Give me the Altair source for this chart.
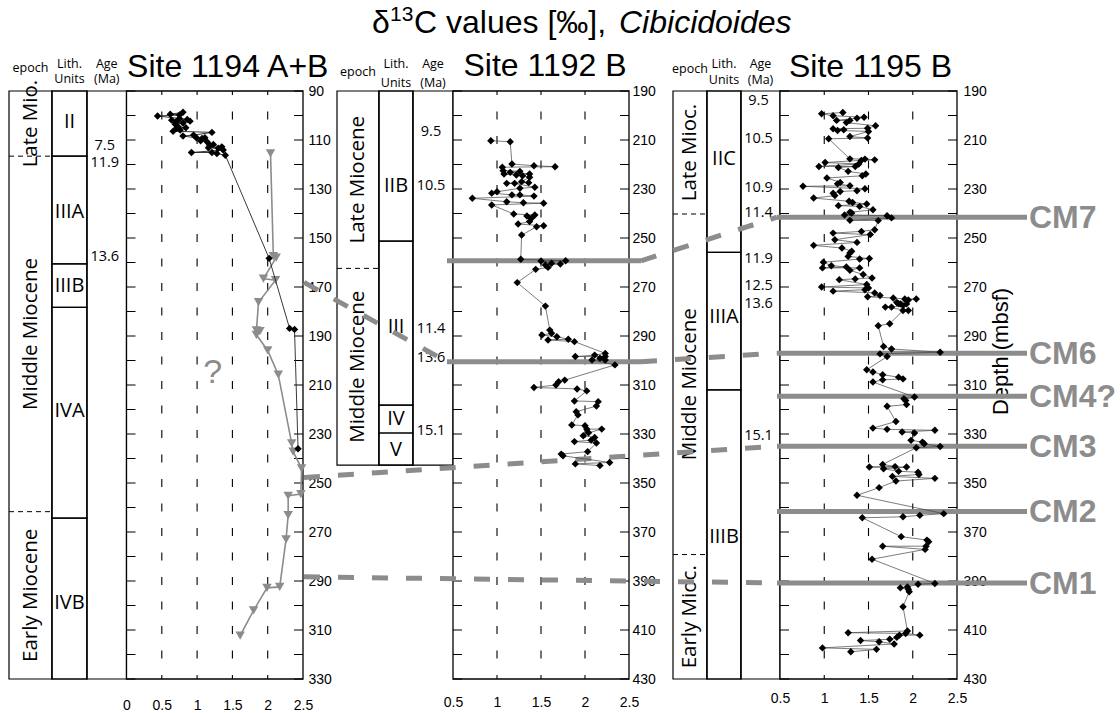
import altair as alt
import pandas as pd

W, H = 1120, 713
Y0, Y1 = 91, 679
FONT = "Liberation Sans"
SFONT = "Open Sans"
GRAY = "#8c8c8c"

# ---------------- layout (pixel ranges of scales) ----------------
P1_X, P2_X, P3_X = [126.5, 303], [453, 629], [780, 957]
P1_COLS = [9, 52, 87, 126.5]
P2_COLS = [337, 379, 413, 453]
P3_COLS = [673, 707, 741, 780]

# ---------------- data: d13C (per mil) and depth (mbsf) ----------------
s1194_black_d13c = [0.44, 0.62, 0.80, 0.75, 0.64, 0.75, 0.86, 0.90, 0.70, 0.80,
                    0.69, 0.73, 0.71, 0.84, 0.76, 0.66, 1.21, 0.80, 0.95, 0.99,
                    1.07, 1.11, 1.14, 1.05, 1.23, 1.18, 1.35, 1.16, 1.30, 1.37,
                    0.92, 1.21, 1.28, 1.40, 2.02, 2.31, 2.38, 2.43]
s1194_black_depth = [100.2, 99.5, 98.7, 99.8, 101.9, 101.2, 101.6, 102.3, 102.6, 103.1,
                     103.6, 104.6, 105.2, 105.0, 105.9, 106.4, 106.9, 108.4, 108.0, 109.1,
                     109.4, 109.1, 110.7, 110.3, 111.8, 112.1, 112.8, 113.2, 113.4, 114.1,
                     115.1, 115.1, 115.5, 116.2, 158.3, 186.9, 187.3, 236.0]
s1194_gray_d13c = [2.04, 2.08, 2.12, 1.94, 2.11, 1.87, 1.84, 1.89, 1.84, 2.00, 2.15,
                   2.34, 2.36, 2.48, 2.47, 2.29, 2.29, 2.26, 2.17, 1.99, 1.80, 1.61]
s1194_gray_depth = [115.5, 157.4, 158.0, 166.6, 167.2, 176.2, 187.7, 188.0, 189.5, 195.9, 205.8,
                    233.8, 237.2, 244.0, 254.5, 255.2, 263.1, 273.0, 292.4, 292.8, 302.0, 312.3]

s1192_d13c = [0.93, 1.15, 1.17, 1.42, 1.66, 1.06, 1.07, 1.15, 1.26, 1.37,
              1.08, 1.22, 1.29, 1.37, 1.11, 1.28, 1.36, 1.20, 1.43, 1.26,
              1.17, 1.26, 1.42, 1.00, 0.94, 0.72, 0.94, 1.11, 1.30, 1.53,
              1.19, 1.34, 1.39, 1.43, 1.37, 1.24, 1.45, 1.53, 1.28, 1.27,
              1.50, 1.62, 1.72, 1.78, 1.58, 1.44, 1.55, 1.23, 1.55, 1.60,
              1.62, 1.51, 1.58, 1.68, 1.81, 1.88, 1.89, 2.11, 2.17, 2.23,
              2.23, 2.23, 2.08, 2.34, 1.77, 1.70, 1.67, 1.42, 1.91, 2.02,
              1.88, 2.15, 2.13, 1.90, 1.92, 1.85, 2.00, 2.02, 2.19, 2.04,
              1.98, 2.11, 2.07, 2.13, 1.88, 2.03, 1.73, 1.75, 2.28, 1.89,
              2.17]
s1192_depth = [210.3, 210.7, 219.8, 220.5, 220.9, 221.1, 222.5, 223.2, 222.8, 223.9,
               223.9, 224.3, 224.6, 225.2, 227.7, 227.0, 227.4, 227.7, 229.3, 229.7,
               232.4, 232.4, 232.9, 231.1, 231.7, 233.8, 236.5, 235.2, 235.6, 235.8,
               240.2, 241.0, 242.0, 240.6, 243.3, 244.3, 245.4, 245.0, 248.8, 258.7,
               259.4, 260.3, 260.6, 259.3, 262.0, 262.8, 261.0, 268.2, 277.8, 287.6,
               288.9, 289.6, 291.6, 290.3, 291.3, 292.3, 298.4, 297.8, 299.1, 297.1,
               298.4, 299.8, 299.8, 301.8, 308.0, 308.7, 310.0, 311.0, 311.6, 312.4,
               316.5, 316.8, 318.6, 320.9, 322.2, 326.3, 326.6, 328.0, 328.0, 329.5,
               330.7, 331.4, 332.5, 333.7, 333.1, 337.2, 338.2, 338.9, 341.6, 342.2,
               342.9]

s1195_d13c = [0.97, 1.10, 1.21, 1.14, 1.25, 1.29, 1.37, 1.45, 1.58, 1.10,
              1.15, 1.22, 1.49, 1.50, 1.29, 1.49, 1.05, 1.29, 1.42, 1.57,
              1.46, 1.01, 0.94, 1.16, 1.35, 1.39, 1.27, 1.47, 1.43, 1.03,
              1.15, 1.18, 0.76, 1.29, 1.46, 1.37, 1.10, 1.12, 1.18, 0.88,
              1.28, 1.32, 1.48, 1.16, 1.40, 1.55, 1.29, 1.23, 1.31, 1.29,
              1.71, 1.76, 1.61, 1.57, 1.10, 1.42, 1.52, 1.12, 1.37, 0.88,
              1.20, 1.29, 1.27, 1.31, 1.40, 1.51, 0.99, 0.98, 1.08, 1.25,
              1.29, 1.40, 1.44, 1.54, 1.17, 1.35, 0.97, 1.10, 1.48, 1.50,
              1.46, 1.57, 1.63, 1.49, 1.78, 1.91, 1.84, 2.04, 1.95, 1.93,
              1.89, 1.86, 1.82, 1.76, 1.69, 1.95, 1.89, 1.74, 1.61, 1.67,
              1.76, 2.31, 1.63, 1.71, 1.48, 1.55, 1.66, 1.66, 1.55, 1.84,
              1.89, 2.02, 1.90, 1.92, 1.93, 1.71, 1.81, 1.55, 1.71, 1.88,
              2.02, 2.25, 1.98, 2.11, 2.13, 2.31, 2.04, 1.51, 1.66, 1.67,
              1.80, 1.84, 1.93, 2.06, 2.07, 1.77, 1.81, 2.25, 1.62, 1.37,
              2.35, 2.08, 1.89, 1.43, 1.87, 2.16, 2.18, 2.15, 2.14, 1.66,
              1.54, 2.25, 2.06, 1.86, 1.94, 1.95, 1.96, 1.89, 1.94, 1.92,
              2.08, 1.27, 1.85, 1.82, 1.74, 1.41, 1.62, 1.79, 0.98, 1.59,
              1.30]
s1195_depth = [199.3, 200.1, 198.8, 202.0, 202.9, 202.0, 201.1, 200.7, 204.2, 205.4,
               206.1, 205.8, 205.2, 206.5, 208.6, 209.2, 209.5, 217.7, 218.3, 218.1,
               217.8, 219.2, 220.8, 221.2, 220.8, 219.8, 222.8, 223.9, 224.6, 225.5,
               227.9, 227.3, 228.9, 228.7, 229.9, 230.7, 231.7, 232.7, 231.0, 233.7,
               235.0, 235.5, 236.1, 236.8, 237.1, 238.5, 239.5, 240.6, 239.8, 242.8,
               240.9, 241.8, 242.9, 246.6, 248.0, 247.3, 248.6, 250.7, 251.8, 253.0,
               254.1, 256.1, 257.5, 255.4, 258.6, 258.4, 259.9, 262.2, 261.3, 261.8,
               263.2, 262.2, 264.9, 266.3, 267.0, 266.7, 270.0, 271.7, 269.0, 270.4,
               271.1, 272.4, 273.5, 274.0, 274.5, 274.9, 276.8, 274.9, 275.3, 276.9,
               277.6, 276.9, 276.3, 278.2, 278.2, 279.6, 279.6, 285.0, 285.8, 294.3,
               295.3, 296.6, 297.3, 298.4, 303.8, 304.7, 305.8, 307.9, 308.8, 306.8,
               307.5, 314.9, 315.6, 316.3, 318.0, 318.7, 324.9, 327.6, 328.1, 329.2,
               329.6, 328.5, 332.6, 333.3, 334.0, 335.1, 335.6, 343.5, 342.4, 344.2,
               343.3, 345.2, 343.5, 345.6, 346.5, 347.3, 349.2, 348.1, 351.9, 355.0,
               362.5, 363.2, 363.8, 364.2, 371.9, 373.3, 374.0, 375.8, 377.1, 375.8,
               381.1, 391.0, 391.3, 392.8, 392.4, 393.4, 394.4, 400.5, 410.4, 411.4,
               412.1, 411.1, 412.1, 413.0, 413.8, 414.3, 414.8, 415.7, 417.3, 417.9,
               418.9]

# ---------------- axes ----------------
P1_DOM = [90, 330]
P23_DOM = [190, 430]
P1_XDOM = [0, 2.5]
P23_XDOM = [0.5, 2.5]
p1_xlabels = [0, 0.5, 1, 1.5, 2, 2.5]
p23_xlabels = [0.5, 1, 1.5, 2, 2.5]
p1_grid = [0.5, 1, 1.5, 2]
p23_grid = [1, 1.5, 2]
p1_ylabels = [90, 110, 130, 150, 170, 190, 210, 230, 250, 270, 290, 310, 330]
p23_ylabels = [190, 210, 230, 250, 270, 290, 310, 330, 350, 370, 390, 410, 430]
p1_yticks = list(range(90, 331, 10))
p23_yticks = list(range(190, 431, 10))

# ---------------- stratigraphy ----------------
p1_epochs = ["Late Mio.", "Middle Miocene", "Early Miocene"]
p1_epoch_top = [90, 116.6, 261.7]
p1_epoch_base = [116.6, 261.7, 330]
p1_lith = ["II", "IIIA", "IIIB", "IVA", "IVB"]
p1_lith_top = [90, 116.6, 160.6, 178.3, 264.3]
p1_lith_base = [116.6, 160.6, 178.3, 264.3, 330]
p1_lith_label = [102.5, 139.5, 169.5, 220.5, 299.0]
p1_age = ["7.5", "11.9", "13.6"]
p1_age_depth = [112.6, 119.5, 157.9]

p2_epochs = ["Late Miocene", "Middle Miocene"]
p2_epoch_top = [190, 262.4]
p2_epoch_base = [262.4, 342.7]
p2_lith = ["IIB", "III", "IV", "V"]
p2_lith_top = [190, 251.3, 318.2, 329.6]
p2_lith_base = [251.3, 318.2, 329.6, 342.7]
p2_lith_label = [228.6, 286.5, 323.9, 336.6]
p2_age = ["9.5", "10.5", "11.4", "13.6", "15.1"]
p2_age_depth = [206.6, 228.9, 287.1, 299.1, 328.6]

p3_epochs = ["Late Mioc.", "Middle Miocene", "Early Mioc."]
p3_epoch_top = [190, 240.2, 379.2]
p3_epoch_base = [240.2, 379.2, 430]
p3_lith = ["IIC", "IIIA", "IIIB"]
p3_lith_top = [190, 255.9, 312.0]
p3_lith_base = [255.9, 312.0, 430]
p3_lith_label = [217.8, 282.4, 372.0]
p3_age = ["9.5", "10.5", "10.9", "11.4", "11.9", "12.5", "13.6", "15.1"]
p3_age_depth = [194.1, 209.7, 229.4, 239.6, 258.6, 269.5, 276.9, 331.0]

# ---------------- carbon-isotope events ----------------
cm_names = ["CM7", "CM6", "CM4?", "CM3", "CM2", "CM1"]
cm_depth_1195 = [241.5, 297.0, 314.6, 335.0, 361.6, 390.8]
cm_depth_1192 = [259.3, 300.5]
conn_from_site = ["1192", "1194", "1192", "1194", "1194"]
conn_from_depth = [259.3, 168.1, 300.5, 247.8, 288.3]
conn_to_site = ["1195", "1192", "1195", "1195", "1195"]
conn_to_depth = [241.5, 300.5, 297.0, 335.0, 390.8]


def qs(dom, rng):
    return alt.Scale(domain=dom, range=rng, nice=False, zero=False)


layers = []


# ---------- stratigraphic columns ----------
def strat_layers(cols_px, ydom, bot, ep, ep_t, ep_b, li, li_t, li_b, li_lab, ag, ag_d, hdr_dy):
    SX = qs([0, 1, 2, 3], cols_px)
    YS = qs(ydom, [Y0, Y1])
    L = []
    cdf = pd.DataFrame({"c0": [0, 1, 2], "c1": [1, 2, 3], "top": ydom[0], "bot": bot})
    L.append(alt.Chart(cdf).mark_rect(fill="white", stroke="black", strokeWidth=1.2).encode(
        x=alt.X("c0:Q", scale=SX, axis=None), x2="c1:Q",
        y=alt.Y("top:Q", scale=YS, axis=None), y2="bot:Q"))
    ldf = pd.DataFrame({"name": li, "top": li_t, "bot": li_b, "lab": li_lab})
    ldf["c0"], ldf["c1"], ldf["cm"] = 1, 2, 1.5
    L.append(alt.Chart(ldf).mark_rect(fill="white", fillOpacity=0, stroke="black", strokeWidth=1.2).encode(
        x=alt.X("c0:Q", scale=SX, axis=None), x2="c1:Q",
        y=alt.Y("top:Q", scale=YS, axis=None), y2="bot:Q"))
    L.append(alt.Chart(ldf).mark_text(font=SFONT, fontSize=20, color="black", baseline="middle").encode(
        x=alt.X("cm:Q", scale=SX, axis=None), y=alt.Y("lab:Q", scale=YS, axis=None), text="name:N"))
    edf = pd.DataFrame({"name": ep, "top": ep_t, "bot": ep_b})
    edf["mid"] = (edf["top"] + edf["bot"]) / 2
    edf["c0"], edf["c1"], edf["cm"] = 0, 1, 0.5
    L.append(alt.Chart(edf.iloc[1:]).mark_rule(color="black", strokeWidth=1, strokeDash=[5, 4]).encode(
        x=alt.X("c0:Q", scale=SX, axis=None), x2="c1:Q", y=alt.Y("top:Q", scale=YS, axis=None)))
    L.append(alt.Chart(edf).mark_text(font=SFONT, fontSize=20.5, angle=270, color="black",
                                      baseline="middle", align="center").encode(
        x=alt.X("cm:Q", scale=SX, axis=None), y=alt.Y("mid:Q", scale=YS, axis=None), text="name:N"))
    adf = pd.DataFrame({"t": ag, "d": ag_d})
    adf["cm"] = 2.5
    L.append(alt.Chart(adf).mark_text(font=SFONT, fontSize=14.5, color="black", baseline="middle", dx=-2).encode(
        x=alt.X("cm:Q", scale=SX, axis=None), y=alt.Y("d:Q", scale=YS, axis=None), text="t:N"))
    hdr = [(["epoch"], [0.5], hdr_dy[0]), (["Lith.", "Age"], [1.5, 2.5], hdr_dy[1]),
           (["Units", "(Ma)"], [1.5, 2.5], hdr_dy[2])]
    for names, xs_, dy in hdr:
        hdf = pd.DataFrame({"t": names, "cm": xs_, "top": ydom[0]})
        L.append(alt.Chart(hdf).mark_text(font=SFONT, fontSize=12.5, color="black", baseline="middle", dy=dy).encode(
            x=alt.X("cm:Q", scale=SX, axis=None), y=alt.Y("top:Q", scale=YS, axis=None), text="t:N"))
    return L


layers += strat_layers(P1_COLS, P1_DOM, 330, p1_epochs, p1_epoch_top, p1_epoch_base, p1_lith, p1_lith_top,
                       p1_lith_base, p1_lith_label, p1_age, p1_age_depth, [-23, -27, -12])
layers += strat_layers(P2_COLS, P23_DOM, 342.7, p2_epochs, p2_epoch_top, p2_epoch_base, p2_lith, p2_lith_top,
                       p2_lith_base, p2_lith_label, p2_age, p2_age_depth, [-19, -27, -8])
layers += strat_layers(P3_COLS, P23_DOM, 430, p3_epochs, p3_epoch_top, p3_epoch_base, p3_lith, p3_lith_top,
                       p3_lith_base, p3_lith_label, p3_age, p3_age_depth, [-22, -27, -11])


# ---------- plot frames, dashed grid, inward ticks ----------
def frame_layers(xdom, xrng, ydom, grid_vals, tick_vals):
    XS, YS = qs(xdom, xrng), qs(ydom, [Y0, Y1])
    L = []
    fdf = pd.DataFrame({"x0": [xdom[0]], "x1": [xdom[1]], "y0": [ydom[0]], "y1": [ydom[1]]})
    L.append(alt.Chart(fdf).mark_rect(fill="white", stroke="black", strokeWidth=1.3).encode(
        x=alt.X("x0:Q", scale=XS, axis=None), x2="x1:Q",
        y=alt.Y("y0:Q", scale=YS, axis=None), y2="y1:Q"))
    gdf = pd.DataFrame({"g": grid_vals, "y0": ydom[0], "y1": ydom[1]})
    L.append(alt.Chart(gdf).mark_rule(color="black", strokeWidth=1.1, strokeDash=[8, 16.5], strokeDashOffset=4).encode(
        x=alt.X("g:Q", scale=XS, axis=None), y=alt.Y("y0:Q", scale=YS, axis=None), y2="y1:Q"))
    tdf = pd.DataFrame({"d": tick_vals, "xl": xdom[0], "xr": xdom[1]})
    L.append(alt.Chart(tdf).mark_rule(color="black", strokeWidth=1, x2Offset=9).encode(
        x=alt.X("xl:Q", scale=XS, axis=None), x2="xl:Q", y=alt.Y("d:Q", scale=YS, axis=None)))
    L.append(alt.Chart(tdf).mark_rule(color="black", strokeWidth=1, x2Offset=-9).encode(
        x=alt.X("xr:Q", scale=XS, axis=None), x2="xr:Q", y=alt.Y("d:Q", scale=YS, axis=None)))
    return L


layers += frame_layers(P1_XDOM, P1_X, P1_DOM, p1_grid, p1_yticks)
layers += frame_layers(P23_XDOM, P2_X, P23_DOM, p23_grid, p23_yticks)
layers += frame_layers(P23_XDOM, P3_X, P23_DOM, p23_grid, p23_yticks)


# ---------- titles ----------
def site_title(text, xdom, xrng, ydom, dx, dy):
    df = pd.DataFrame({"t": [text], "x": [sum(xdom) / 2], "y": [ydom[0]]})
    return alt.Chart(df).mark_text(font=FONT, fontSize=32, color="black", baseline="alphabetic",
                                   align="center", dx=dx, dy=dy).encode(
        x=alt.X("x:Q", scale=qs(xdom, xrng), axis=None),
        y=alt.Y("y:Q", scale=qs(ydom, [Y0, Y1]), axis=None), text="t:N")


layers.append(site_title("Site 1194 A+B", P1_XDOM, P1_X, P1_DOM, 13, -14))
layers.append(site_title("Site 1192 B", P23_XDOM, P2_X, P23_DOM, 4, -15))
layers.append(site_title("Site 1195 B", P23_XDOM, P3_X, P23_DOM, 2, -14))

# main title: delta, raised "13", rest, italic genus name
one = pd.DataFrame({"k": [0]})
title_parts = [("\u03b4", 32, "normal", 372, 33), ("13", 21, "normal", 390, 21),
               ("C values [\u2030],", 32, "normal", 414, 33), ("Cibicidoides", 32, "italic", 619, 33)]
for txt, fs, style, tx, ty in title_parts:
    layers.append(alt.Chart(one).mark_text(text=txt, font=FONT, fontSize=fs, fontStyle=style,
                                           align="left", baseline="alphabetic", color="black").encode(
        x=alt.value(tx), y=alt.value(ty)))

qdf = pd.DataFrame({"t": ["?"], "x": [1.22], "y": [205.0]})
layers.append(alt.Chart(qdf).mark_text(font=FONT, fontSize=34, color=GRAY, baseline="middle").encode(
    x=alt.X("x:Q", scale=qs(P1_XDOM, P1_X), axis=None),
    y=alt.Y("y:Q", scale=qs(P1_DOM, [Y0, Y1]), axis=None), text="t:N"))

# ---------- correlation lines ----------
YS23 = qs(P23_DOM, [Y0, Y1])
c2df = pd.DataFrame({"d": cm_depth_1192, "x0": 0.5, "x1": 2.5})
layers.append(alt.Chart(c2df).mark_rule(color=GRAY, strokeWidth=5, xOffset=-6, x2Offset=12).encode(
    x=alt.X("x0:Q", scale=qs(P23_XDOM, P2_X), axis=None), x2="x1:Q",
    y=alt.Y("d:Q", scale=YS23, axis=None)))

anchor_from = {"1194": 0, "1192": 2}
anchor_to = {"1192": 1, "1195": 3}
shift = {"1194": P23_DOM[0] - P1_DOM[0], "1192": 0, "1195": 0}
conn = pd.DataFrame({
    "a0": [anchor_from[s] for s in conn_from_site],
    "a1": [anchor_to[s] for s in conn_to_site],
    "d0": [d + shift[s] for s, d in zip(conn_from_site, conn_from_depth)],
    "d1": [d + shift[s] for s, d in zip(conn_to_site, conn_to_depth)],
})
ANCH = qs([0, 1, 2, 3], [P1_X[1] + 1, P2_X[0] - 6, P2_X[1] + 12, P3_X[0] - 3])
layers.append(alt.Chart(conn).mark_rule(color=GRAY, strokeWidth=5, strokeDash=[16, 18]).encode(
    x=alt.X("a0:Q", scale=ANCH, axis=None), x2="a1:Q",
    y=alt.Y("d0:Q", scale=YS23, axis=None), y2="d1:Q"))

cmdf = pd.DataFrame({"name": cm_names, "d": cm_depth_1195, "x0": 0.5, "x1": 2.5})
layers.append(alt.Chart(cmdf).mark_rule(color=GRAY, strokeWidth=5, xOffset=-3, x2Offset=70).encode(
    x=alt.X("x0:Q", scale=qs(P23_XDOM, P3_X), axis=None), x2="x1:Q",
    y=alt.Y("d:Q", scale=YS23, axis=None)))
layers.append(alt.Chart(cmdf).mark_text(font=FONT, fontSize=32, fontWeight="bold", color=GRAY,
                                        align="left", baseline="middle", dx=72, dy=1).encode(
    x=alt.X("x1:Q", scale=qs(P23_XDOM, P3_X), axis=None),
    y=alt.Y("d:Q", scale=YS23, axis=None), text="name:N"))


# ---------- data series ----------
def series(d13c, depth, xdom, xrng, ydom, line_color, line_w, shape, size, pt_color, axes=None):
    df = pd.DataFrame({"d13c": d13c, "depth": depth})
    XS, YS = qs(xdom, xrng), qs(ydom, [Y0, Y1])
    line = alt.Chart(df).mark_line(color=line_color, strokeWidth=line_w).encode(
        x=alt.X("d13c:Q", scale=XS, axis=None), y=alt.Y("depth:Q", scale=YS, axis=None),
        order="depth:Q")
    if axes is None:
        xenc = alt.X("d13c:Q", scale=XS, axis=None)
        yenc = alt.Y("depth:Q", scale=YS, axis=None)
    else:
        xa, ya = axes
        xenc = alt.X("d13c:Q", scale=XS, axis=xa)
        yenc = alt.Y("depth:Q", scale=YS, axis=ya)
    pts = alt.Chart(df).mark_point(shape=shape, filled=True, size=size, color=pt_color, opacity=1).encode(
        x=xenc, y=yenc)
    return [line, pts]


def axes_for(xrng, xvals, ylabels, xpad, ypad, ytitle=False):
    xa = alt.Axis(orient="bottom", offset=Y1 - H, values=xvals, format="~g", domain=False, ticks=False,
                  grid=False, labelPadding=xpad, labelFont=FONT, labelFontSize=14, labelColor="black",
                  labelFlush=False, labelOverlap=False, title=None)
    kw = dict(orient="right", offset=xrng[1] - W, values=ylabels, domain=False, ticks=False, grid=False,
              labelPadding=ypad, labelFont=FONT, labelFontSize=14, labelColor="black", labelFlush=False,
              labelOverlap=False)
    if ytitle:
        ya = alt.Axis(title="Depth (mbsf)", titleAngle=270, titleX=43, titleY=351, titleAlign="center",
                      titleBaseline="middle", titleFont=FONT, titleFontSize=22, titleFontWeight="normal",
                      titleColor="black", **kw)
    else:
        ya = alt.Axis(title=None, **kw)
    return (xa, ya)


layers += series(s1194_gray_d13c, s1194_gray_depth, P1_XDOM, P1_X, P1_DOM, GRAY, 1.6,
                 "triangle-down", 90, GRAY)
layers += series(s1194_black_d13c, s1194_black_depth, P1_XDOM, P1_X, P1_DOM, "#222222", 0.9,
                 "diamond", 55, "black", axes_for(P1_X, p1_xlabels, p1_ylabels, 19, 5))
layers += series(s1192_d13c, s1192_depth, P23_XDOM, P2_X, P23_DOM, "#444444", 0.7,
                 "diamond", 55, "black", axes_for(P2_X, p23_xlabels, p23_ylabels, 16, 3))
layers += series(s1195_d13c, s1195_depth, P23_XDOM, P3_X, P23_DOM, "#444444", 0.7,
                 "diamond", 55, "black", axes_for(P3_X, p23_xlabels, p23_ylabels, 12, 6, ytitle=True))

chart = alt.layer(*layers).resolve_scale(x="independent", y="independent").properties(
    width=W, height=H, padding=0, autosize=alt.AutoSizeParams(type="none"), background="white"
).configure_view(strokeOpacity=0)

chart.save("out.html", embed_options={"renderer": "svg", "actions": False})
